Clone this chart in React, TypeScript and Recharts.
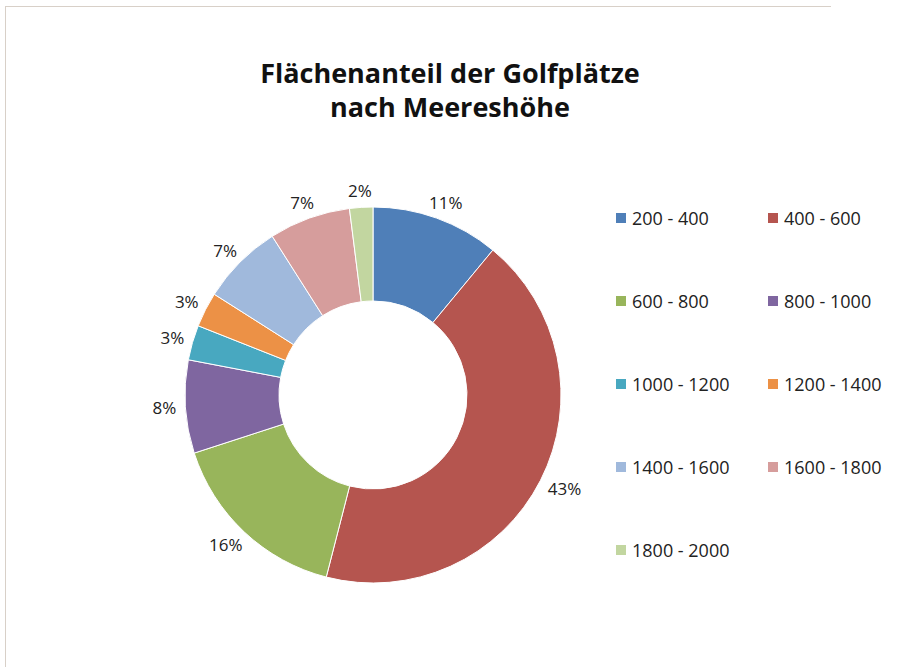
import { PieChart, Pie, Cell, Legend } from "recharts";

const ranges = [
  "200 - 400",
  "400 - 600",
  "600 - 800",
  "800 - 1000",
  "1000 - 1200",
  "1200 - 1400",
  "1400 - 1600",
  "1600 - 1800",
  "1800 - 2000",
];
const shares = [11, 43, 16, 8, 3, 3, 7, 7, 2];
const colors = [
  "#4f7fb8",
  "#b5554f",
  "#98b55b",
  "#7f66a0",
  "#48a8c0",
  "#ec9146",
  "#a0b9dc",
  "#d69d9c",
  "#c2d6a0",
];

const data = ranges.map((r, i) => ({ name: r, value: shares[i] }));

const FONT = "'Open Sans', 'Noto Sans', sans-serif";
const RAD = Math.PI / 180;

// "outside end" label: the label box sits just beyond the rim
function renderLabel(p: any) {
  const text = `${p.value}%`;
  const w = text.length * 12;
  const h = 16;
  const c = Math.cos(-p.midAngle * RAD);
  const s = Math.sin(-p.midAngle * RAD);
  const r = p.outerRadius + 9;
  const x = p.cx + r * c + (c * w) / 2;
  const y = p.cy + r * s + (s * h) / 2;
  return (
    <text
      x={x}
      y={y}
      textAnchor="middle"
      dominantBaseline="central"
      fontSize={17}
      fontFamily={FONT}
      fill="#222"
    >
      {text}
    </text>
  );
}

function LegendGrid() {
  return (
    <div
      style={{
        display: "grid",
        gridTemplateColumns: "152px 140px",
        rowGap: 0,
        fontFamily: FONT,
        fontSize: 18,
        color: "#222",
      }}
    >
      {ranges.map((r, i) => (
        <div
          key={r}
          style={{ display: "flex", alignItems: "center", height: 83 }}
        >
          <span
            style={{
              display: "inline-block",
              width: 10,
              height: 10,
              background: colors[i],
              marginRight: 6,
            }}
          />
          {r}
        </div>
      ))}
    </div>
  );
}

export default function App() {
  return (
    <div
      style={{
        position: "absolute",
        left: 0,
        top: 0,
        width: 909,
        height: 670,
        background: "#fff",
      }}
    >
      <div
        style={{
          position: "absolute",
          left: 5,
          top: 6,
          width: 825,
          height: 660,
          borderLeft: "1px solid #d8d0c8",
          borderTop: "1px solid #d8d0c8",
        }}
      />
      <div
        style={{
          position: "absolute",
          left: 0,
          top: 56,
          width: 900,
          textAlign: "center",
          fontFamily: FONT,
          fontWeight: 700,
          fontSize: 27,
          lineHeight: "34px",
          color: "#111",
        }}
      >
        Flächenanteil der Golfplätze
        <br />
        nach Meereshöhe
      </div>
      <PieChart
        width={909}
        height={670}
        margin={{ top: 0, right: 0, bottom: 0, left: 0 }}
      >
        <Pie
          data={data}
          dataKey="value"
          nameKey="name"
          cx={373}
          cy={395}
          innerRadius={94}
          outerRadius={188}
          startAngle={90}
          endAngle={-270}
          stroke="#fff"
          strokeWidth={1}
          label={renderLabel}
          labelLine={false}
          isAnimationActive={false}
        >
          {data.map((d, i) => (
            <Cell key={d.name} fill={colors[i]} />
          ))}
        </Pie>
        <Legend
          content={() => <LegendGrid />}
          wrapperStyle={{ position: "absolute", left: 616, top: 176, width: 300 }}
        />
      </PieChart>
    </div>
  );
}
